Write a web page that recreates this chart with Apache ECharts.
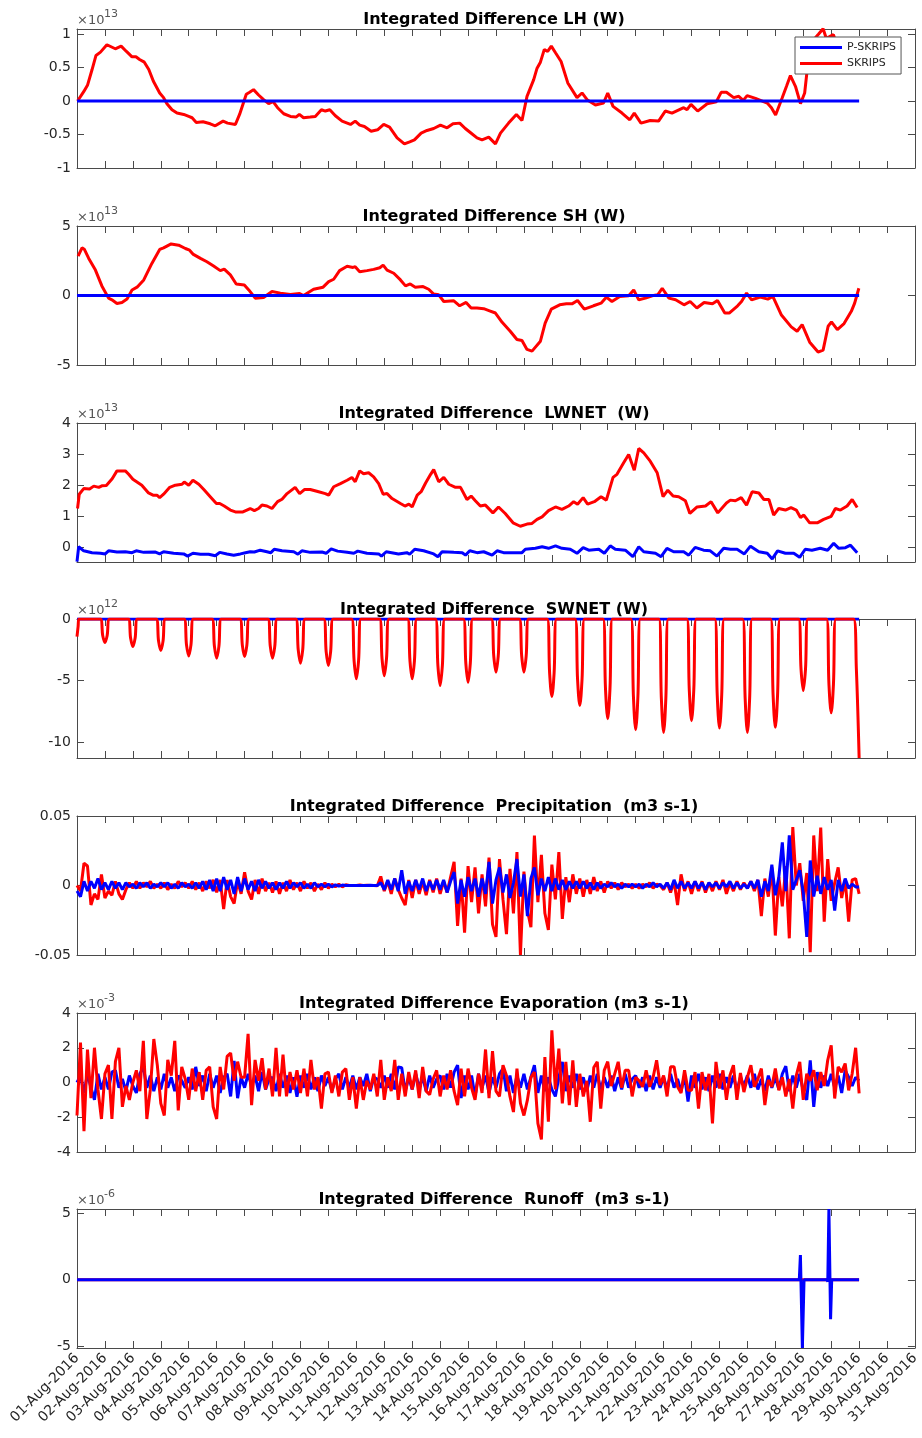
<!DOCTYPE html>
<html>
<head>
<meta charset="utf-8">
<script src="https://cdn.jsdelivr.net/npm/echarts@6/dist/echarts.min.js"></script>
<style>html,body{margin:0;padding:0;background:#fff}#c{width:922px;height:1438px}</style>
</head>
<body>
<div id="c"></div>
<script>
// ---------------- DATA ----------------
const X_TICK_LABELS = ['01-Aug-2016','02-Aug-2016','03-Aug-2016','04-Aug-2016','05-Aug-2016','06-Aug-2016','07-Aug-2016','08-Aug-2016','09-Aug-2016','10-Aug-2016','11-Aug-2016','12-Aug-2016','13-Aug-2016','14-Aug-2016','15-Aug-2016','16-Aug-2016','17-Aug-2016','18-Aug-2016','19-Aug-2016','20-Aug-2016','21-Aug-2016','22-Aug-2016','23-Aug-2016','24-Aug-2016','25-Aug-2016','26-Aug-2016','27-Aug-2016','28-Aug-2016','29-Aug-2016','30-Aug-2016','31-Aug-2016'];

// sampling interval (days) of the precipitation / evaporation series
const STEP = 1/8;

// LH (x1e13 W), [day, value]
const lhSkrips = [[0.02,0],[0.24,0.14],[0.38,0.24],[0.54,0.47],[0.68,0.68],[0.84,0.73],[1.07,0.84],[1.37,0.78],[1.58,0.82],[1.77,0.74],[1.97,0.66],[2.11,0.66],[2.24,0.62],[2.41,0.58],[2.57,0.47],[2.74,0.29],[2.96,0.12],[3.10,0.05],[3.22,-0.04],[3.40,-0.13],[3.58,-0.18],[3.82,-0.20],[4.0,-0.23],[4.12,-0.25],[4.27,-0.32],[4.51,-0.31],[4.77,-0.34],[4.95,-0.37],[5.23,-0.30],[5.39,-0.33],[5.67,-0.35],[5.82,-0.20],[6.06,0.10],[6.18,0.13],[6.32,0.17],[6.50,0.09],[6.68,0.02],[6.86,-0.04],[7.02,-0.01],[7.18,-0.10],[7.40,-0.19],[7.64,-0.23],[7.84,-0.24],[7.96,-0.20],[8.11,-0.25],[8.35,-0.24],[8.53,-0.23],[8.75,-0.13],[8.89,-0.15],[9.05,-0.13],[9.25,-0.22],[9.49,-0.30],[9.79,-0.35],[9.96,-0.30],[10.12,-0.36],[10.29,-0.38],[10.53,-0.45],[10.76,-0.43],[10.98,-0.35],[11.19,-0.39],[11.46,-0.55],[11.72,-0.64],[11.91,-0.61],[12.08,-0.58],[12.32,-0.48],[12.53,-0.44],[12.77,-0.41],[13.01,-0.36],[13.25,-0.40],[13.46,-0.34],[13.70,-0.33],[13.90,-0.41],[14.08,-0.47],[14.32,-0.55],[14.50,-0.58],[14.74,-0.54],[14.98,-0.64],[15.16,-0.48],[15.45,-0.33],[15.73,-0.20],[15.93,-0.29],[16.11,0.07],[16.35,0.32],[16.47,0.49],[16.59,0.58],[16.73,0.77],[16.85,0.74],[16.98,0.82],[17.13,0.72],[17.33,0.59],[17.57,0.27],[17.90,0.05],[18.08,0.12],[18.26,0.02],[18.56,-0.06],[18.85,-0.03],[19.0,0.12],[19.19,-0.08],[19.51,-0.18],[19.79,-0.28],[19.95,-0.18],[20.19,-0.33],[20.52,-0.29],[20.82,-0.30],[21.06,-0.15],[21.30,-0.18],[21.72,-0.10],[21.84,-0.13],[21.98,-0.05],[22.22,-0.15],[22.56,-0.04],[22.89,-0.01],[23.06,0.13],[23.25,0.13],[23.51,0.05],[23.69,0.07],[23.85,0.01],[23.99,0.08],[24.29,0.04],[24.71,-0.03],[24.86,-0.10],[25.01,-0.21],[25.24,0.04],[25.40,0.22],[25.54,0.38],[25.72,0.22],[25.90,-0.04],[26.05,0.12],[26.16,0.54],[26.38,0.92],[26.55,1.0],[26.71,1.08],[26.82,0.94],[26.94,0.96],[27.08,0.99],[27.15,0.9],[27.4,0.8],[27.7,0.72],[28,0.68]];
const lhPskrips = [[0,0],[28,0]];

// SH (x1e13 W)
const shSkrips = [[0.04,2.83],[0.18,3.43],[0.26,3.33],[0.42,2.67],[0.66,1.83],[0.89,0.69],[1.13,-0.19],[1.25,-0.31],[1.43,-0.57],[1.61,-0.5],[1.79,-0.26],[1.97,0.4],[2.15,0.6],[2.39,1.12],[2.68,2.31],[2.96,3.31],[3.10,3.43],[3.37,3.71],[3.64,3.62],[3.88,3.38],[4.03,3.26],[4.15,2.98],[4.42,2.67],[4.65,2.43],[4.89,2.12],[5.13,1.79],[5.27,1.9],[5.49,1.48],[5.70,0.83],[5.99,0.76],[6.15,0.4],[6.38,-0.19],[6.68,-0.14],[6.98,0.29],[7.28,0.17],[7.64,0.07],[7.97,0.14],[8.11,0],[8.47,0.45],[8.81,0.6],[9.01,1.0],[9.19,1.17],[9.40,1.79],[9.67,2.1],[9.88,2.02],[9.96,2.07],[10.12,1.71],[10.38,1.79],[10.62,1.88],[10.84,2.0],[10.96,2.19],[11.10,1.83],[11.34,1.6],[11.58,1.12],[11.76,0.69],[11.93,0.83],[12.11,0.6],[12.39,0.64],[12.59,0.45],[12.77,0.1],[12.95,0.05],[13.13,-0.43],[13.49,-0.38],[13.70,-0.74],[13.93,-0.5],[14.11,-0.9],[14.32,-0.9],[14.56,-0.95],[14.77,-1.1],[14.98,-1.26],[15.22,-1.93],[15.51,-2.57],[15.75,-3.17],[15.93,-3.24],[16.11,-3.88],[16.29,-4.0],[16.59,-3.29],[16.76,-1.98],[16.98,-0.98],[17.28,-0.67],[17.52,-0.6],[17.72,-0.6],[17.92,-0.36],[18.16,-0.98],[18.49,-0.74],[18.76,-0.55],[18.95,-0.12],[19.15,-0.43],[19.43,-0.07],[19.75,-0.02],[19.93,0.4],[20.11,-0.31],[20.35,-0.19],[20.59,-0.02],[20.79,0.05],[20.95,0.52],[21.19,-0.19],[21.43,-0.31],[21.73,-0.67],[21.95,-0.43],[22.19,-0.9],[22.45,-0.5],[22.75,-0.6],[22.93,-0.36],[23.19,-1.26],[23.35,-1.26],[23.65,-0.74],[23.79,-0.43],[23.97,0.17],[24.15,-0.31],[24.46,-0.12],[24.73,-0.26],[24.91,-0.07],[25.21,-1.38],[25.57,-2.26],[25.78,-2.57],[25.96,-2.1],[26.23,-3.36],[26.53,-4.07],[26.71,-3.93],[26.89,-2.21],[27.01,-1.9],[27.22,-2.45],[27.46,-2.02],[27.72,-1.14],[27.84,-0.55],[27.99,0.52]];
const shPskrips = [[0,0],[28,0]];

// LWNET (x1e13 W)
const lwSkrips = [[0.02,1.25],[0.08,1.71],[0.24,1.89],[0.45,1.88],[0.60,1.97],[0.78,1.93],[0.89,1.98],[1.05,1.99],[1.26,2.21],[1.43,2.46],[1.73,2.46],[1.85,2.35],[2.0,2.19],[2.32,2.0],[2.56,1.75],[2.72,1.68],[2.86,1.68],[2.96,1.6],[3.10,1.71],[3.32,1.93],[3.52,2.0],[3.76,2.03],[3.84,2.1],[4.0,2.0],[4.15,2.16],[4.36,2.03],[4.54,1.86],[4.77,1.63],[4.99,1.41],[5.11,1.41],[5.27,1.33],[5.49,1.2],[5.67,1.14],[5.94,1.14],[6.08,1.2],[6.20,1.25],[6.35,1.18],[6.50,1.25],[6.62,1.36],[6.80,1.33],[6.98,1.25],[7.18,1.47],[7.34,1.55],[7.52,1.73],[7.81,1.93],[7.97,1.73],[8.14,1.86],[8.35,1.86],[8.65,1.79],[8.89,1.73],[9.01,1.68],[9.19,1.95],[9.43,2.05],[9.67,2.16],[9.84,2.25],[9.96,2.11],[10.12,2.46],[10.26,2.37],[10.44,2.4],[10.62,2.27],[10.80,2.05],[10.96,1.71],[11.10,1.73],[11.28,1.57],[11.58,1.41],[11.74,1.33],[11.88,1.39],[12.0,1.3],[12.18,1.68],[12.32,1.79],[12.48,2.07],[12.66,2.35],[12.77,2.5],[12.95,2.11],[13.13,2.25],[13.31,2.03],[13.55,1.93],[13.73,1.93],[13.96,1.54],[14.11,1.65],[14.26,1.5],[14.44,1.33],[14.62,1.36],[14.89,1.11],[15.09,1.3],[15.33,1.09],[15.61,0.79],[15.87,0.68],[16.11,0.75],[16.29,0.77],[16.47,0.9],[16.65,0.98],[16.88,1.18],[17.13,1.3],[17.36,1.22],[17.60,1.33],[17.78,1.47],[17.92,1.39],[18.12,1.6],[18.28,1.39],[18.52,1.47],[18.76,1.63],[18.95,1.52],[19.19,2.25],[19.33,2.35],[19.57,2.72],[19.75,2.99],[19.95,2.48],[20.11,3.18],[20.29,3.04],[20.50,2.8],[20.77,2.4],[20.98,1.63],[21.15,1.84],[21.34,1.65],[21.54,1.63],[21.78,1.5],[21.94,1.09],[22.20,1.3],[22.50,1.33],[22.70,1.47],[22.94,1.11],[23.25,1.43],[23.39,1.52],[23.57,1.5],[23.78,1.6],[23.97,1.36],[24.17,1.79],[24.41,1.75],[24.59,1.54],[24.77,1.54],[24.94,1.04],[25.12,1.25],[25.36,1.2],[25.56,1.28],[25.75,1.2],[25.90,0.96],[26.02,1.04],[26.23,0.79],[26.50,0.79],[26.73,0.9],[27.0,1.0],[27.15,1.25],[27.33,1.2],[27.57,1.33],[27.75,1.54],[27.93,1.28]];
const lwPskrips = [[0,-0.46],[0.06,0.02],[0.24,-0.11],[0.54,-0.17],[0.84,-0.19],[1.01,-0.21],[1.13,-0.11],[1.43,-0.15],[1.73,-0.14],[1.97,-0.17],[2.12,-0.11],[2.39,-0.16],[2.81,-0.15],[2.96,-0.21],[3.10,-0.14],[3.46,-0.19],[3.82,-0.21],[3.96,-0.28],[4.15,-0.19],[4.42,-0.22],[4.71,-0.22],[4.95,-0.27],[5.11,-0.16],[5.37,-0.21],[5.61,-0.25],[5.85,-0.21],[6.03,-0.17],[6.20,-0.14],[6.35,-0.15],[6.56,-0.09],[6.80,-0.14],[6.94,-0.17],[7.06,-0.06],[7.34,-0.11],[7.76,-0.14],[7.91,-0.22],[8.05,-0.11],[8.35,-0.16],[8.77,-0.15],[8.92,-0.19],[9.10,-0.05],[9.33,-0.12],[9.67,-0.16],[9.91,-0.19],[10.05,-0.12],[10.38,-0.19],[10.80,-0.21],[10.90,-0.28],[11.07,-0.14],[11.51,-0.21],[11.81,-0.17],[11.91,-0.22],[12.09,-0.06],[12.41,-0.11],[12.77,-0.21],[12.92,-0.30],[13.07,-0.14],[13.49,-0.16],[13.79,-0.17],[13.91,-0.25],[14.06,-0.11],[14.32,-0.17],[14.56,-0.14],[14.86,-0.25],[15.04,-0.11],[15.27,-0.17],[15.63,-0.17],[15.93,-0.17],[16.05,-0.06],[16.41,-0.03],[16.65,0.02],[16.88,-0.03],[17.13,0.05],[17.36,-0.03],[17.66,-0.06],[17.90,-0.19],[18.12,-0.01],[18.32,-0.09],[18.68,-0.06],[18.88,-0.19],[19.09,0.05],[19.27,-0.06],[19.63,-0.09],[19.90,-0.30],[20.11,0.02],[20.29,-0.14],[20.71,-0.19],[20.91,-0.30],[21.12,-0.03],[21.36,-0.14],[21.72,-0.14],[21.90,-0.25],[22.13,0],[22.43,-0.09],[22.67,-0.11],[22.91,-0.28],[23.15,-0.03],[23.39,-0.06],[23.63,-0.06],[23.89,-0.21],[24.11,0.04],[24.41,-0.14],[24.71,-0.19],[24.89,-0.37],[25.08,-0.11],[25.36,-0.19],[25.66,-0.19],[25.87,-0.32],[26.07,-0.06],[26.31,-0.09],[26.61,-0.03],[26.87,-0.09],[27.09,0.13],[27.27,-0.03],[27.51,-0.01],[27.69,0.07],[27.93,-0.17]];

// SWNET (x1e12 W)
const swSkrips = [[0,-1.43],[0.04,-0.6],[0.07,0],
[0.83,0],[0.92,-1.34],[1,-1.92],[1.08,-1.34],[1.17,0],
[1.83,0],[1.92,-1.57],[2,-2.24],[2.08,-1.57],[2.17,0],
[2.83,0],[2.92,-1.80],[3,-2.57],[3.08,-1.80],[3.17,0],
[3.83,0],[3.92,-2.10],[4,-3.00],[4.08,-2.10],[4.17,0],
[4.83,0],[4.92,-2.23],[5,-3.19],[5.08,-2.23],[5.17,0],
[5.83,0],[5.92,-2.14],[6,-3.05],[6.08,-2.14],[6.17,0],
[6.83,0],[6.92,-2.23],[7,-3.19],[7.08,-2.23],[7.17,0],
[7.83,0],[7.92,-2.51],[8,-3.59],[8.08,-2.51],[8.17,0],
[8.83,0],[8.92,-2.65],[9,-3.78],[9.08,-2.65],[9.17,0],
[9.83,0],[9.92,-3.40],[10,-4.86],[10.08,-3.40],[10.17,0],
[10.83,0],[10.92,-3.23],[11,-4.62],[11.08,-3.23],[11.17,0],
[11.83,0],[11.92,-3.40],[12,-4.86],[12.08,-3.40],[12.17,0],
[12.83,0],[12.92,-3.79],[13,-5.41],[13.08,-3.79],[13.17,0],
[13.83,0],[13.92,-3.60],[14,-5.14],[14.08,-3.60],[14.17,0],
[14.83,0],[14.92,-3.02],[15,-4.32],[15.08,-3.02],[15.17,0],
[15.83,0],[15.92,-3.02],[16,-4.32],[16.08,-3.02],[16.17,0],
[16.83,0],[16.92,-4.41],[17,-6.30],[17.08,-4.41],[17.17,0],
[17.83,0],[17.92,-4.92],[18,-7.03],[18.08,-4.92],[18.17,0],
[18.83,0],[18.92,-5.68],[19,-8.11],[19.08,-5.68],[19.17,0],
[19.83,0],[19.92,-6.30],[20,-9.00],[20.08,-6.30],[20.17,0],
[20.83,0],[20.92,-6.45],[21,-9.22],[21.08,-6.45],[21.17,0],
[21.83,0],[21.92,-5.79],[22,-8.27],[22.08,-5.79],[22.17,0],
[22.83,0],[22.92,-6.20],[23,-8.86],[23.08,-6.20],[23.17,0],
[23.83,0],[23.92,-6.45],[24,-9.22],[24.08,-6.45],[24.17,0],
[24.83,0],[24.92,-6.17],[25,-8.81],[25.08,-6.17],[25.17,0],
[25.83,0],[25.92,-4.07],[26,-5.81],[26.08,-4.07],[26.17,0],
[26.83,0],[26.92,-5.33],[27,-7.62],[27.08,-5.33],[27.17,0],
[27.8,0],[27.9,-4.0],[28,-11.3]];
const swPskrips = [[0,0],[28,0]];

// Precipitation (m3 s-1), one value every STEP days from 01-Aug 00:00
const prSkrips = [
0.0,-0.004,0.016,0.014,-0.014,-0.006,-0.010,0.008,
-0.009,-0.004,-0.007,0.003,-0.006,-0.010,-0.003,0.002,
-0.002,0.003,-0.002,0.002,-0.001,0.003,-0.002,0.001,
-0.002,0.002,-0.003,0.001,-0.002,0.003,-0.001,0.002,
-0.002,0.003,-0.003,0.002,-0.004,0.003,-0.002,0.004,
-0.005,0.004,-0.017,0.004,-0.008,-0.013,0.003,-0.006,
0.0096,-0.004,-0.010,0.004,-0.006,0.005,-0.004,0.002,
-0.005,0.003,-0.006,0.002,-0.004,0.004,-0.003,0.002,
-0.004,0.003,-0.002,0.002,-0.004,0.001,-0.003,0.002,
-0.002,0.001,-0.001,0.001,-0.001,0.0005,0.0,0.0,
0.0,0.0003,0.0,0.0002,0.0,0.0,-0.0002,0.0065,
-0.004,0.003,-0.006,0.005,-0.003,-0.009,-0.014,0.004,
-0.009,0.004,-0.006,0.003,-0.007,0.004,-0.005,0.005,
-0.006,0.003,-0.005,0.006,0.017,-0.029,0.005,-0.034,
0.014,-0.012,0.013,-0.020,0.008,-0.015,0.020,-0.028,
-0.037,0.019,-0.010,-0.035,0.012,-0.020,0.024,-0.050,
0.010,-0.018,-0.030,0.036,-0.012,0.022,-0.020,-0.032,
0.015,-0.010,0.024,-0.024,0.006,-0.012,0.008,-0.006,
0.005,-0.008,0.004,-0.006,0.006,-0.004,0.003,-0.005,
0.003,-0.002,0.002,-0.003,0.002,-0.001,0.001,-0.002,
0.001,-0.002,0.001,-0.001,0.002,-0.002,0.001,0.000,
-0.003,0.002,-0.005,0.003,-0.014,0.008,-0.004,0.003,
-0.006,0.003,-0.004,0.003,-0.005,0.002,-0.004,0.003,
-0.003,0.004,-0.006,0.002,-0.004,0.003,-0.003,0.002,
-0.002,0.003,-0.004,0.004,-0.022,0.005,-0.008,0.013,
-0.036,0.006,-0.015,0.014,-0.038,0.042,0.000,0.016,
-0.011,0.009,-0.048,0.036,-0.004,0.0416,-0.026,0.019,
-0.011,0.002,0.013,-0.009,0.004,-0.026,0.004,0.005,
-0.006];
const prPskrips = [
-0.004,-0.008,0.003,-0.004,0.003,-0.002,0.005,-0.003,
0.002,-0.003,0.003,-0.002,0.002,-0.003,0.002,-0.001,
0.001,-0.002,0.002,-0.001,0.002,-0.002,0.001,-0.001,
0.002,-0.001,0.002,-0.002,0.001,-0.002,0.002,-0.001,
0.001,-0.002,0.002,-0.002,0.003,-0.003,0.004,-0.004,
0.005,-0.004,0.006,-0.003,0.004,-0.006,0.006,-0.004,
0.005,-0.003,0.003,-0.004,0.004,-0.002,0.003,-0.002,
0.002,-0.003,0.002,-0.002,0.003,-0.002,0.002,-0.001,
0.002,-0.002,0.001,-0.002,0.002,-0.001,0.001,-0.001,
0.001,-0.001,0.0005,-0.0005,0.0003,0,0,0,
0,0,0,0,0.0002,0,0,0.002,
-0.003,0.004,-0.003,0.005,-0.004,0.011,-0.006,0.003,
-0.004,0.004,-0.003,0.005,-0.004,0.003,-0.003,0.004,
-0.003,0.004,-0.005,0.003,0.0096,-0.013,0.004,-0.008,
0.006,-0.004,0.005,-0.008,0.005,-0.006,0.017,-0.013,
0.004,0.013,-0.005,0.008,-0.009,0.002,0.019,-0.008,
0.008,-0.022,0.005,0.013,-0.007,0.005,-0.004,0.006,
-0.004,0.005,-0.003,0.004,-0.003,0.003,-0.002,0.003,
-0.002,0.003,-0.002,0.002,-0.003,0.002,-0.002,0.001,
-0.001,0.002,-0.001,0.001,-0.002,0.001,-0.001,0.001,
-0.001,0.001,-0.002,0.001,-0.001,0.002,-0.001,0.001,
-0.002,0.002,-0.003,0.004,-0.002,0.003,-0.002,0.002,
-0.002,0.003,-0.002,0.002,-0.003,0.002,-0.001,0.002,
-0.002,0.002,-0.001,0.003,-0.002,0.002,-0.002,0.001,
-0.002,0.003,-0.002,0.004,-0.008,0.003,-0.004,0.015,
-0.007,0.006,0.031,-0.004,0.036,-0.003,0.004,0.011,
-0.005,-0.037,0.018,-0.008,0.007,-0.006,0.006,-0.003,
0.004,-0.018,0.004,-0.004,0.005,-0.002,0.001,-0.001,
-0.001];

// Evaporation (x1e-3 m3 s-1), one value every STEP days
const evSkrips = [
-1.9,2.3,-2.8,1.9,-0.9,2.0,-0.4,-2.1,
0.5,1.0,-2.1,1.2,2.0,-1.4,-0.2,-1.0,
0.0,0.7,-0.5,2.4,-2.1,-0.4,2.5,1.0,
-1.2,-1.9,1.3,0.4,2.4,-1.6,0.9,0.2,
-1.0,0.8,-0.5,0.6,-1.0,0.7,0.9,-1.4,
-2.1,0.9,-0.4,1.5,1.7,0.1,1.2,0.3,
0.3,2.8,-1.3,1.3,0.1,1.4,-0.4,0.8,
-0.8,2.0,-0.8,1.6,-0.8,0.6,-0.4,0.7,
-0.6,0.8,-0.8,1.3,-0.4,0.3,-1.5,0.5,
0.6,-0.6,0.4,-0.8,0.6,0.8,-1.0,0.3,
-1.5,0.3,-1.0,0.1,-0.4,0.5,-0.8,1.3,
-1.0,0.3,-0.5,1.3,-1.0,0.5,-0.8,0.6,
-0.4,0.7,-0.9,0.9,-0.5,-0.7,0.2,0.7,
-0.8,0.4,-0.4,0.7,-0.5,-1.3,0.8,-0.8,
0.8,-0.3,-1.0,0.5,-0.6,1.9,-0.9,1.8,
-0.5,-0.8,1.0,0.4,-0.8,-1.7,0.8,-1.2,
-1.9,-1.0,0.3,0.6,-2.35,-3.27,1.47,-2.26,
3.0,-0.4,1.95,-1.2,1.19,-1.3,1.28,-1.4,
0.5,-0.8,0.1,-2.26,0.86,1.19,-1.5,0.7,
1.2,-0.2,0.5,1.19,-0.3,0.7,0.7,-0.8,
0.3,0.1,-0.25,0.7,-0.25,0.3,1.28,-0.15,
0.4,-0.8,0.9,0.9,-0.25,-0.6,0.7,-0.45,
-0.45,0.6,-1.5,0.6,-0.45,0.5,-2.35,1.19,
-0.35,0.7,-1.0,0.4,1.0,-1.0,0.55,-0.55,
0.3,1.0,-0.25,0.2,0.8,-1.3,0.15,-0.25,
0.8,-0.45,0.3,-0.8,0.2,-1.5,0.4,1.19,
-1.0,0.5,0.1,0.7,-0.45,0.6,-0.2,1.28,
2.14,-0.92,0.9,0.6,1.09,-0.45,0.5,2.0,
-0.63];
const evPskrips = [
0.0,0.4,-0.6,0.5,-0.3,-1.0,0.5,-0.4,
0.3,-0.4,0.6,0.7,-0.3,0.2,-0.5,0.4,
-0.2,-0.6,0.5,0.9,-0.3,0.4,-0.5,0.3,
-0.4,0.5,-0.3,0.3,-0.5,0.4,0.1,-0.3,
0.3,-0.4,0.9,-0.2,0.4,-0.5,0.5,-0.3,
0.4,-0.6,0.3,0.5,-0.8,1.24,-0.9,0.3,
-0.3,0.5,-0.2,0.4,-0.5,0.6,-0.4,0.2,
0.3,-0.5,0.5,-0.3,0.4,-0.6,0.3,-0.82,
0.4,-0.3,0.5,-0.4,0.3,-0.5,0.4,-0.2,
0.3,-0.5,0.2,0.5,-0.4,0.3,-0.3,0.4,
-0.4,0.3,-0.2,0.5,-0.5,0.3,0.2,-0.3,
0.4,-0.3,0.5,-0.4,0.9,0.85,-0.5,0.3,
-0.4,0.5,-0.3,0.3,-0.5,0.4,-0.3,0.2,
0.4,-0.4,0.5,-0.3,0.6,1.0,-0.9,0.4,
-0.4,0.4,-0.8,0.5,-0.3,0.4,-0.6,0.3,
-0.3,0.5,0.8,-0.5,0.4,-0.6,0.4,-0.3,
0.5,-0.4,0.3,1.0,-0.6,0.4,-0.5,0.3,
-0.4,-0.8,0.3,1.19,-0.5,0.4,-0.3,0.5,
-0.4,0.3,-0.5,0.4,-0.3,0.5,-0.4,0.3,
-0.3,0.4,-0.5,0.3,-0.4,0.5,-0.3,0.2,
0.4,-0.3,0.3,-0.5,0.4,-0.4,0.3,-0.3,
0.3,-0.4,0.5,-0.3,0.2,-0.5,0.4,-1.1,
0.4,-0.3,0.5,-0.4,0.3,-0.5,0.4,-0.3,
0.5,-0.4,0.3,-0.3,0.4,-0.5,0.3,-0.2,
0.4,-0.3,0.5,-0.4,0.2,-0.5,0.4,-0.3,
0.3,-0.4,0.5,0.94,-0.5,0.4,-0.3,0.5,
-0.5,-1.0,1.28,-1.4,0.6,-0.3,0.4,-0.2,
0.5,-0.3,0.4,-0.6,0.7,0.3,-0.2,0.3,
0.1];

// Runoff (x1e-6 m3 s-1)
const roPskrips = [[0,0],[25.86,0],[25.9,1.85],[25.97,-5.1],[26.03,0],[26.86,0],[26.88,-0.15],[26.92,5.3],[26.98,-2.95],[27.02,0],[28,0]];
const roSkrips = [[0,0],[28,0]];

// y tick values per panel
const lhTicks = [-1,-0.5,0,0.5,1];
const shTicks = [-5,0,5];
const lwTicks = [0,1,2,3,4];
const swTicks = [-10,-5,0];
const prTicks = [-0.05,0,0.05];
const evTicks = [-4,-2,0,2,4];
const roTicks = [-5,0,5];

// ---------------- CHART ----------------
const sampled = arr => arr.map((v, i) => [i * STEP, v]);
const RED = '#ff0000', BLUE = '#0000ff';

const panels = [
  {title:'Integrated Difference LH (W)', exp:'13', min:-1, max:1.075, ticks:lhTicks,
   series:[['SKRIPS', lhSkrips, RED], ['P-SKRIPS', lhPskrips, BLUE]]},
  {title:'Integrated Difference SH (W)', exp:'13', min:-5, max:5, ticks:shTicks,
   series:[['SKRIPS', shSkrips, RED], ['P-SKRIPS', shPskrips, BLUE]]},
  {title:'Integrated Difference  LWNET  (W)', exp:'13', min:-0.47, max:4, ticks:lwTicks,
   series:[['P-SKRIPS', lwPskrips, BLUE], ['SKRIPS', lwSkrips, RED]]},
  {title:'Integrated Difference  SWNET (W)', exp:'12', min:-11.3, max:0, ticks:swTicks, smooth:0.35,
   series:[['P-SKRIPS', swPskrips, BLUE], ['SKRIPS', swSkrips, RED]]},
  {title:'Integrated Difference  Precipitation  (m3 s-1)', exp:null, min:-0.05, max:0.05, ticks:prTicks,
   series:[['SKRIPS', sampled(prSkrips), RED], ['P-SKRIPS', sampled(prPskrips), BLUE]]},
  {title:'Integrated Difference Evaporation (m3 s-1)', exp:'-3', min:-4, max:4, ticks:evTicks,
   series:[['P-SKRIPS', sampled(evPskrips), BLUE], ['SKRIPS', sampled(evSkrips), RED]]},
  {title:'Integrated Difference  Runoff  (m3 s-1)', exp:'-6', min:-5.1, max:5.3, ticks:roTicks,
   series:[['SKRIPS', roSkrips, RED], ['P-SKRIPS', roPskrips, BLUE]]}
];

const GRID_TOP = [29, 226, 423, 619, 816, 1013, 1209];
const GRID_LEFT = 77, GRID_W = 838, GRID_H = 139;
const FONT = '"DejaVu Sans", sans-serif';
const TXT = '#262626', AXC = '#4a4a4a';

const grids = [], xAxes = [], yAxes = [], series = [], elements = [];
panels.forEach((p, k) => {
  grids.push({left: GRID_LEFT, top: GRID_TOP[k], width: GRID_W, height: GRID_H});
  const line = {show: true, onZero: false, lineStyle: {color: AXC, width: 1}};
  const tick = {show: true, inside: true, length: 7, lineStyle: {color: AXC, width: 1}};
  ['bottom', 'top'].forEach(pos => xAxes.push({
    gridIndex: k, type: 'value', position: pos, min: 0, max: 30, interval: 1,
    axisLine: line, axisTick: tick, splitLine: {show: false},
    axisLabel: {show: pos === 'bottom' && k === panels.length - 1, rotate: 45, margin: 8,
      fontSize: 14, fontFamily: FONT, color: TXT, formatter: v => X_TICK_LABELS[Math.round(v)]}
  }));
  ['left', 'right'].forEach(pos => yAxes.push({
    gridIndex: k, type: 'value', position: pos, min: p.min, max: p.max,
    axisLine: line, axisTick: Object.assign({customValues: p.ticks}, tick), splitLine: {show: false},
    axisLabel: {show: pos === 'left', customValues: p.ticks, margin: 6, fontSize: 14, fontFamily: FONT, color: TXT}
  }));
  p.series.forEach(([name, data, color]) => series.push({
    type: 'line', name, data, xAxisIndex: 2 * k, yAxisIndex: 2 * k,
    showSymbol: false, symbol: 'none', smooth: p.smooth || false, clip: true, silent: true,
    lineStyle: {width: 3, color}, itemStyle: {color}
  }));
  elements.push({type: 'text', x: GRID_LEFT + GRID_W / 2 - 2, y: GRID_TOP[k] - 9,
    style: {text: p.title, font: 'bold 16px ' + FONT, fill: '#000', align: 'center', verticalAlign: 'middle', textAlign: 'center', textVerticalAlign: 'middle'}});
  if (p.exp) {
    elements.push({type: 'text', x: GRID_LEFT, y: GRID_TOP[k] - 8,
      style: {text: '\u00d710', font: '13px ' + FONT, fill: '#555', align: 'left', verticalAlign: 'middle', textAlign: 'left', textVerticalAlign: 'middle'}});
    elements.push({type: 'text', x: GRID_LEFT + 27, y: GRID_TOP[k] - 15,
      style: {text: p.exp, font: '11px ' + FONT, fill: '#555', align: 'left', verticalAlign: 'middle', textAlign: 'left', textVerticalAlign: 'middle'}});
  }
});

const chart = echarts.init(document.getElementById('c'), null, {width: 922, height: 1438});
chart.setOption({
  animation: false,
  backgroundColor: '#fff',
  grid: grids, xAxis: xAxes, yAxis: yAxes, series,
  legend: {
    data: ['P-SKRIPS', 'SKRIPS'], orient: 'vertical', left: 795, top: 37,
    icon: 'rect', itemWidth: 42, itemHeight: 3, itemGap: 3, padding: [4, 5, 4, 5],
    backgroundColor: '#fff', borderColor: '#555', borderWidth: 1, borderRadius: 0,
    textStyle: {fontSize: 11, fontFamily: FONT, color: TXT, lineHeight: 13},
    selectedMode: false, z: 10
  },
  graphic: {elements}
});
</script>
</body>
</html>
